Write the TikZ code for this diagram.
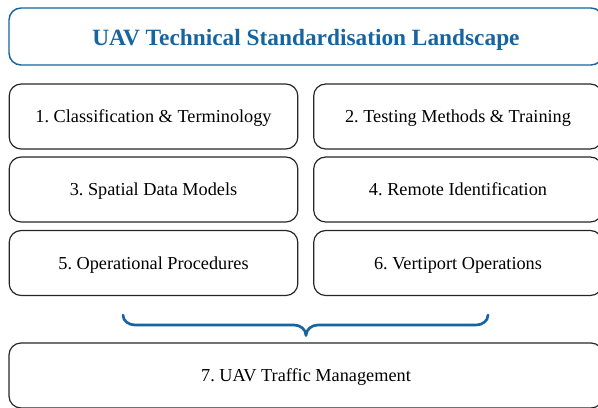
\documentclass[tikz,border=0pt]{standalone}
\usepackage{fontspec}
\setmainfont{Liberation Serif}
\frenchspacing
\definecolor{uavblue}{RGB}{22,100,160}
\begin{document}
\begin{tikzpicture}[x=0.75pt,y=-0.75pt,
  box/.style={draw=black!85,line width=0.9pt,rounded corners=9pt,minimum height=48.75pt,
    inner sep=0pt,font=\fontsize{13.7}{16}\selectfont,text=black,text height=9.07pt,text depth=0pt},
  halfbox/.style={box,minimum width=216.5pt},
  titlebox/.style={draw=uavblue,line width=1.1pt,rounded corners=9pt,minimum width=445.5pt,
    minimum height=42.75pt,inner sep=0pt,text=uavblue,font=\fontsize{17.5}{20}\selectfont\bfseries,
    text height=14pt,text depth=0pt},
  bracestyle/.style={draw=uavblue,line width=2pt,line cap=round}]
\useasboundingbox (0,0) rectangle (598,407);
\clip (0,0) rectangle (598,407);
\node[titlebox] (title) at (306,36.5) {UAV Technical Standardisation Landscape};
\node[halfbox] (b1) at (153.5,116.5) {1. Classification \& Terminology};
\node[halfbox] (b2) at (458,116.5) {2. Testing Methods \& Training};
\node[halfbox] (b3) at (153.5,189.5) {3. Spatial Data Models};
\node[halfbox] (b4) at (458,189.5) {4. Remote Identification};
\node[halfbox] (b5) at (153.5,263) {5. Operational Procedures};
\node[halfbox] (b6) at (458,263) {6. Vertiport Operations};
\node[box,minimum width=445.5pt] (b7) at (306,375.5) {7. UAV Traffic Management};
\coordinate (bl) at (123,315);
\coordinate (br) at (488,315);
\coordinate (bt) at (306,335.5);
\draw[bracestyle] (bl) to[out=-90,in=180] (135,325) -- (294,325) to[out=0,in=90] (bt)
  (bt) to[out=90,in=180] (318,325) -- (476,325) to[out=0,in=-90] (br);
\end{tikzpicture}
\end{document}
